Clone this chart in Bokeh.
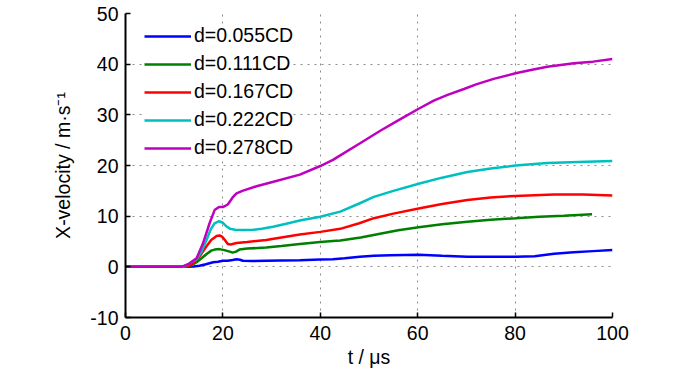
from bokeh.plotting import figure
from bokeh.models import Legend, LegendItem, FixedTicker, Range1d
from bokeh.embed import file_html
from bokeh.resources import INLINE

# ---- data ----
labels = ["d=0.055CD", "d=0.111CD", "d=0.167CD", "d=0.222CD", "d=0.278CD"]
colors = ["#0000FF", "#008000", "#FF0000", "#00BFBF", "#BF00BF"]

t_055 = [0, 12.5, 14, 15.2, 16.5, 18, 19, 20, 21, 22, 22.8, 23.5, 24.1, 26, 28.9, 32, 35.8, 40, 42.6,
         45, 48.1, 51, 54.4, 60.2, 65, 70.2, 75, 80.1, 84, 88, 92, 96, 100]
v_055 = [0, 0, 0.05, 0.2, 0.5, 0.9, 1.0, 1.2, 1.2, 1.35, 1.5, 1.4, 1.2, 1.15, 1.2, 1.25, 1.3, 1.45, 1.5,
         1.7, 2.0, 2.2, 2.3, 2.4, 2.2, 2.0, 2.0, 2.0, 2.1, 2.6, 2.9, 3.1, 3.3]

t_111 = [0, 12.3, 13.5, 14.6, 15.6, 16.6, 17.6, 18.3, 19.3, 20.3, 21.4, 22, 22.7, 23.4, 25, 28.9, 32,
         35.8, 40, 42.6, 44.1, 48.3, 52, 56, 60.2, 65, 70.2, 75, 80.1, 85, 90, 95.8]
v_111 = [0, 0, 0.3, 0.9, 1.7, 2.5, 3.2, 3.4, 3.5, 3.3, 3.0, 2.8, 3.0, 3.4, 3.6, 3.8, 4.1,
         4.5, 4.9, 5.1, 5.2, 5.8, 6.5, 7.2, 7.8, 8.4, 8.9, 9.3, 9.6, 9.9, 10.1, 10.4]

t_167 = [0, 12.3, 13.5, 14.6, 15.6, 16.6, 17.6, 18.7, 19.3, 19.9, 20.4, 21, 21.6, 22.8, 25, 28.9, 32,
         35.8, 40, 44.1, 48, 51, 55, 60.2, 65, 70.2, 75, 80.1, 88, 94, 100]
v_167 = [0, 0, 0.4, 1.3, 2.6, 4.0, 5.3, 6.1, 6.2, 5.9, 5.3, 4.5, 4.4, 4.7, 4.9, 5.3, 5.8,
         6.4, 6.9, 7.5, 8.6, 9.6, 10.5, 11.5, 12.4, 13.2, 13.7, 14.0, 14.3, 14.3, 14.1]

t_222 = [0, 11.8, 13, 14.6, 15.5, 16.6, 17.5, 18.3, 19.2, 20, 20.7, 21.5, 22.5, 24, 26.2, 28, 30.3, 33,
         36, 40, 44.1, 48, 51, 55, 60.2, 65, 70.2, 75, 80.1, 86.6, 93, 100]
v_222 = [0, 0, 0.6, 1.5, 2.8, 5.2, 7.4, 8.6, 9.0, 8.7, 8.0, 7.5, 7.3, 7.25, 7.3, 7.5, 7.9, 8.5,
         9.2, 9.9, 10.9, 12.5, 13.8, 15.0, 16.4, 17.6, 18.7, 19.4, 20.0, 20.5, 20.7, 20.9]

t_278 = [0, 11.5, 13, 14.6, 15.9, 17.3, 18.3, 19.2, 20, 21, 22, 22.8, 24, 26.9, 30, 35.8, 40, 42.6,
         44.1, 48, 52.4, 56, 60.2, 63.3, 66, 69.5, 72, 75.6, 80.1, 83, 86.6, 92.1, 96, 100]
v_278 = [0, 0, 0.6, 1.7, 4.6, 8.7, 11.2, 11.8, 11.8, 12.3, 13.7, 14.5, 15.0, 15.9, 16.7, 18.2, 19.9, 21.1,
         22.0, 24.3, 26.9, 28.9, 31.2, 32.8, 33.9, 35.1, 36.0, 37.1, 38.2, 38.8, 39.5, 40.2, 40.5, 41.0]

series_t = [t_055, t_111, t_167, t_222, t_278]
series_v = [v_055, v_111, v_167, v_222, v_278]

x_ticks = [0, 20, 40, 60, 80, 100]
y_ticks = [-10, 0, 10, 20, 30, 40, 50]
y_tick_labels = {-10: "-10", 0: "0", 10: "10", 20: "20", 30: "30", 40: "40", 50: "50"}

FONT = "Liberation Sans"
FS = "19.5px"

p = figure(width=700, height=375, output_backend="svg", toolbar_location=None,
           x_range=Range1d(0, 100), y_range=Range1d(-10, 50),
           min_border_left=125, min_border_right=88, min_border_top=13, min_border_bottom=58)
p.outline_line_color = None
p.background_fill_color = "white"
p.border_fill_color = "white"

renderers = []
for tt, vv, c in zip(series_t, series_v, colors):
    r = p.line(tt, vv, line_color=c, line_width=2.5)
    renderers.append(r)

for ax in (p.xaxis[0], p.yaxis[0]):
    ax.axis_line_width = 2
    ax.axis_line_color = "black"
    ax.major_tick_in = 5
    ax.major_tick_out = 0
    ax.major_tick_line_width = 1.5
    ax.minor_tick_line_color = None
    ax.major_label_text_font = FONT
    ax.major_label_text_font_size = FS
    ax.major_label_text_color = "black"
    ax.axis_label_text_font = FONT
    ax.axis_label_text_font_size = FS
    ax.axis_label_text_font_style = "normal"
    ax.axis_label_text_color = "black"

p.xaxis[0].ticker = FixedTicker(ticks=x_ticks)
p.yaxis[0].ticker = FixedTicker(ticks=y_ticks)
p.yaxis[0].major_label_overrides = y_tick_labels
p.xaxis[0].major_label_standoff = 8
p.yaxis[0].major_label_standoff = 7
p.xaxis[0].axis_label = "t / \u03bcs"
p.yaxis[0].axis_label = "X-velocity / m\u00b7s\u207b\u00b9"
p.xaxis[0].axis_label_standoff = 3
p.yaxis[0].axis_label_standoff = 13

for g in (p.xgrid[0], p.ygrid[0]):
    g.grid_line_color = "#8c8c8c"
    g.grid_line_dash = "2 5"
    g.grid_line_width = 1
p.xgrid[0].ticker = FixedTicker(ticks=x_ticks)
p.ygrid[0].ticker = FixedTicker(ticks=y_ticks)

legend = Legend(items=[LegendItem(label=l, renderers=[r]) for l, r in zip(labels, renderers)],
                location=(19, 158), padding=6, margin=0, spacing=5,
                glyph_width=47, glyph_height=20, label_height=20, label_standoff=3,
                label_text_font=FONT, label_text_font_size=FS, label_text_color="black",
                border_line_color=None, background_fill_color="white", background_fill_alpha=1.0)
p.add_layout(legend, "center")

open("out.html", "w").write(file_html(p, INLINE))
